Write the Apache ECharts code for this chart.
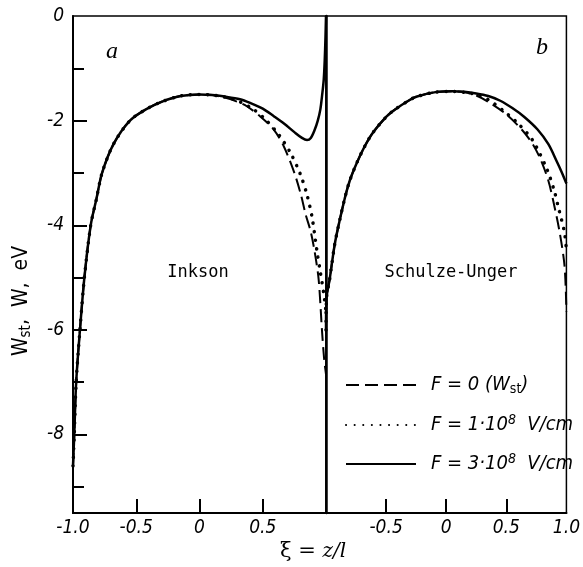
<!DOCTYPE html>
<html>
<head>
<meta charset="UTF-8">
<title>Inkson / Schulze-Unger</title>
<style>
body { padding:0; border:0; margin:0; background:#fff; }
</style>
<script src="https://cdn.jsdelivr.net/npm/echarts@6/dist/echarts.min.js"></script>
</head>
<body>
<div id="main" style="width:583px;height:567px;"></div>
<script>
// data: xi = z/l, W in eV
// panel a (Inkson): left branch is common to all three curves
var aLeftXi = [-1.0, -0.99, -0.975, -0.945, -0.91, -0.86, -0.815, -0.77, -0.68, -0.55, -0.42, -0.3, -0.15, 0];
var aLeftW  = [-8.6, -8.0, -7.0, -6.0, -5.0, -4.0, -3.5, -3.0, -2.45, -2.0, -1.78, -1.64, -1.53, -1.5];

var aF0Xi = [0.1, 0.2, 0.3, 0.377, 0.48, 0.587, 0.666, 0.75, 0.8, 0.84, 0.877, 0.91, 0.942, 0.968, 0.985, 1.0];
var aF0W  = [-1.51, -1.56, -1.64, -1.73, -1.92, -2.17, -2.49, -3.0, -3.4, -3.8, -4.1, -4.5, -5.04, -6.0, -6.55, -6.85];
var aF1Xi = [0.1, 0.2, 0.3, 0.429, 0.53, 0.627, 0.72, 0.798, 0.85, 0.89, 0.929, 0.956, 0.982, 1.0];
var aF1W  = [-1.51, -1.55, -1.62, -1.79, -2.0, -2.27, -2.62, -3.03, -3.42, -3.85, -4.5, -4.91, -5.3, -5.65];
var aF3Xi = [0.1, 0.2, 0.32, 0.4, 0.5, 0.59, 0.67, 0.75, 0.81, 0.85, 0.88, 0.91, 0.935, 0.955, 0.97, 0.982, 0.99, 0.996, 1.0];
var aF3W  = [-1.51, -1.54, -1.59, -1.66, -1.77, -1.92, -2.06, -2.22, -2.33, -2.37, -2.33, -2.18, -2.0, -1.79, -1.5, -1.22, -0.84, -0.4, 0];

// panel b (Schulze-Unger)
var bLeftXi = [-1.0, -0.996, -0.97, -0.93, -0.9, -0.84, -0.8, -0.744, -0.68, -0.613, -0.5, -0.428, -0.3, -0.243, -0.1, 0.05];
var bLeftW  = [-6.0, -5.4, -5.04, -4.4, -4.05, -3.45, -3.13, -2.81, -2.5, -2.24, -1.93, -1.79, -1.6, -1.54, -1.46, -1.44];

var bF0Xi = [0.15, 0.25, 0.364, 0.5, 0.628, 0.72, 0.787, 0.85, 0.892, 0.945, 0.985, 1.0];
var bF0W  = [-1.46, -1.52, -1.66, -1.88, -2.17, -2.45, -2.75, -3.15, -3.55, -4.15, -4.79, -5.65];
var bF1Xi = [0.15, 0.25, 0.35, 0.47, 0.6, 0.72, 0.84, 0.9, 0.931, 0.96, 0.985, 1.0];
var bF1W  = [-1.46, -1.5, -1.6, -1.8, -2.06, -2.38, -2.94, -3.35, -3.64, -3.9, -4.15, -4.47];
var bF3Xi = [0.15, 0.25, 0.35, 0.45, 0.55, 0.65, 0.76, 0.85, 0.92, 0.96, 1.0];
var bF3W  = [-1.45, -1.48, -1.53, -1.62, -1.76, -1.93, -2.17, -2.45, -2.78, -2.98, -3.2];

var yMajor = [-8, -6, -4, -2];
var yLabels = [0, -2, -4, -6, -8];
var yMinor = [-1, -3, -5, -7, -9];
var xTicks = [-0.5, 0, 0.5];
var aXLabels = [-1, -0.5, 0, 0.5];
var bXLabels = [-0.5, 0, 0.5, 1];

var seriesNames = ['F0', 'F1', 'F3'];

function pairs(xs, ys) {
    var out = [];
    for (var i = 0; i < xs.length; i++) out.push([xs[i], ys[i]]);
    return out;
}

var numFont = '"DejaVu Sans Condensed", "DejaVu Sans", sans-serif';
var styles = {
    F0: { color: '#000', width: 2, type: [13, 6] },
    F1: { color: '#000', width: 3.5, type: [0.1, 8.5], cap: 'round' },
    F3: { color: '#000', width: 2.5, type: 'solid' }
};

function line(name, gi, data, z) {
    return {
        name: name, type: 'line',
        xAxisIndex: gi, yAxisIndex: gi === 0 ? 0 : 2,
        data: data, symbol: 'none', showSymbol: false,
        smooth: 0.3,
        lineStyle: styles[name], itemStyle: { color: '#000' },
        z: z, silent: true, animation: false
    };
}

function xAxis(gi, labels) {
    return {
        type: 'value', gridIndex: gi, min: -1, max: 1, position: 'bottom',
        axisLine: { onZero: false, lineStyle: { color: '#000', width: 2 } },
        axisTick: { inside: true, length: 14, customValues: xTicks, lineStyle: { color: '#000', width: 2 } },
        axisLabel: {
            customValues: labels, margin: 6, color: '#000',
            fontFamily: numFont, fontStyle: 'italic', fontSize: 19,
            formatter: function (v) { return v === 0 ? '0' : v.toFixed(1); }
        },
        splitLine: { show: false }
    };
}

var myChart = echarts.init(document.getElementById('main'));

var option = {
    backgroundColor: '#fff',
    animation: false,
    grid: [
        { left: 73, top: 16, width: 253, height: 497, show: true, borderColor: '#000', borderWidth: 1.5, backgroundColor: 'transparent' },
        { left: 326, top: 16, width: 251, height: 497, show: true, borderColor: '#000', borderWidth: 1.5, backgroundColor: 'transparent' }
    ],
    xAxis: [xAxis(0, aXLabels), xAxis(1, bXLabels)],
    yAxis: [
        {
            type: 'value', gridIndex: 0, min: -9.5, max: 0, position: 'left',
            axisLine: { onZero: false, lineStyle: { color: '#000', width: 2 } },
            axisTick: { inside: true, length: 14, customValues: yMajor, lineStyle: { color: '#000', width: 2 } },
            axisLabel: {
                customValues: yLabels, margin: 9, color: '#000',
                fontFamily: numFont, fontStyle: 'italic', fontSize: 19
            },
            splitLine: { show: false }
        },
        {
            type: 'value', gridIndex: 0, min: -9.5, max: 0, position: 'left', offset: 0,
            axisLine: { show: false, onZero: false },
            axisTick: { inside: true, length: 11, customValues: yMinor, lineStyle: { color: '#000', width: 2 } },
            axisLabel: { show: false },
            splitLine: { show: false }
        },
        {
            type: 'value', gridIndex: 1, min: -9.5, max: 0, position: 'left',
            axisLine: { onZero: false, lineStyle: { color: '#000', width: 2.5 } },
            axisTick: { show: false }, axisLabel: { show: false },
            splitLine: { show: false }
        }
    ],
    legend: {
        orient: 'vertical', left: 340, top: 370,
        itemWidth: 70, itemHeight: 14, itemGap: 17,
        data: seriesNames,
        selectedMode: false,
        itemStyle: { opacity: 0, color: 'transparent', borderWidth: 0 },
        formatter: function (n) {
            if (n === 'F0') return '{i|F = 0 (W}{sub|st}{i|)}';
            if (n === 'F1') return '{i|F = 1·10}{sup|8}{i|  V/cm}';
            return '{i|F = 3·10}{sup|8}{i|  V/cm}';
        },
        textStyle: {
            color: '#000', padding: [0, 0, 0, 10],
            rich: {
                i: { fontFamily: numFont, fontStyle: 'italic', fontSize: 20, color: '#000' },
                sub: { fontFamily: numFont, fontSize: 14, color: '#000', verticalAlign: 'bottom', padding: [8, 0, 0, 0] },
                sup: { fontFamily: numFont, fontStyle: 'italic', fontSize: 14, color: '#000', verticalAlign: 'top', padding: [0, 0, 10, 0] }
            }
        }
    },
    graphic: [
        { type: 'text', left: 106, top: 40, style: { text: 'a', font: 'italic 24px "Liberation Serif", serif', fill: '#000' } },
        { type: 'text', left: 536, top: 36, style: { text: 'b', font: 'italic 24px "Liberation Serif", serif', fill: '#000' } },
        { type: 'text', x: 198, y: 273, style: { text: 'Inkson', font: '17px "DejaVu Sans Mono", monospace', fill: '#000', align: 'center', verticalAlign: 'middle' } },
        { type: 'text', x: 451, y: 273, style: { text: 'Schulze-Unger', font: '17px "DejaVu Sans Mono", monospace', fill: '#000', align: 'center', verticalAlign: 'middle' } },
        {
            type: 'text', x: 22, y: 301, rotation: Math.PI / 2,
            style: {
                text: '{i|W}{sub|st}{i|,  W,  eV}', align: 'center', verticalAlign: 'middle', fill: '#000',
                rich: {
                    i: { fontFamily: numFont, fontSize: 21, fill: '#000' },
                    sub: { fontFamily: numFont, fontSize: 15, fill: '#000', verticalAlign: 'bottom', padding: [9, 0, 0, 0] }
                }
            }
        },
        {
            type: 'text', x: 313, y: 552,
            style: {
                text: '{u|ξ = }{i|z/l}', align: 'center', verticalAlign: 'middle', fill: '#000',
                rich: {
                    u: { fontFamily: '"DejaVu Serif", serif', fontSize: 21, fill: '#000' },
                    i: { fontFamily: '"DejaVu Serif", serif', fontStyle: 'italic', fontSize: 20, fill: '#000' }
                }
            }
        }
    ],
    series: [
        line('F0', 0, pairs(aLeftXi, aLeftW).concat(pairs(aF0Xi, aF0W)), 2),
        line('F1', 0, pairs(aLeftXi, aLeftW).concat(pairs(aF1Xi, aF1W)), 3),
        line('F3', 0, pairs(aLeftXi, aLeftW).concat(pairs(aF3Xi, aF3W)), 4),
        line('F0', 1, pairs(bLeftXi, bLeftW).concat(pairs(bF0Xi, bF0W)), 2),
        line('F1', 1, pairs(bLeftXi, bLeftW).concat(pairs(bF1Xi, bF1W)), 3),
        line('F3', 1, pairs(bLeftXi, bLeftW).concat(pairs(bF3Xi, bF3W)), 4)
    ]
};

myChart.setOption(option);
</script>
</body>
</html>
